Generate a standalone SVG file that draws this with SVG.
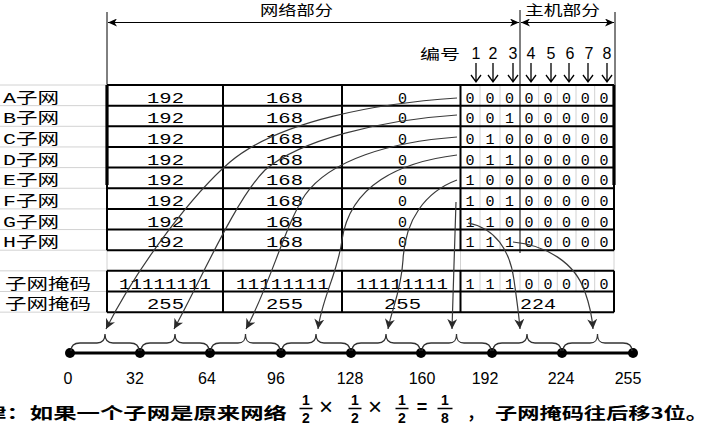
<svg xmlns="http://www.w3.org/2000/svg" width="710" height="429" viewBox="0 0 710 429">
<style>
.bg{fill:#fff}
.g{stroke:#d2d2d2;stroke-width:1;fill:none}
.k{stroke:#000;stroke-width:2;fill:none}
.kt{stroke:#000;stroke-width:3.2;fill:none}
.thin{stroke:#000;stroke-width:1;fill:none}
.m{font-family:"Liberation Mono","Noto Sans CJK SC",monospace;font-size:15px;fill:#000}
.mc{font-family:"Liberation Mono","Noto Sans CJK SC",monospace;font-size:15px;fill:#000;text-anchor:middle}
.cjk{font-family:"Noto Sans CJK SC","Liberation Sans",sans-serif;font-size:14px;fill:#000}
.num{font-family:"Liberation Sans",Arial,sans-serif;font-size:16px;fill:#000;text-anchor:middle}
.ax{font-family:"Liberation Sans",Arial,sans-serif;font-size:16px;fill:#000}
.b{font-family:"Noto Sans CJK SC","Liberation Sans",sans-serif;font-size:16px;font-weight:bold;fill:#000}
.fr{font-family:"Liberation Sans",Arial,sans-serif;font-size:14px;font-weight:bold;fill:#000;text-anchor:middle}
.cv{stroke:#3a3a3a;stroke-width:1.2;fill:none;marker-end:url(#ah)}
.br{stroke:#333;stroke-width:1.3;fill:none}
</style>
<defs>
<marker id="ah" markerUnits="userSpaceOnUse" markerWidth="11" markerHeight="10" refX="10" refY="5" orient="auto" viewBox="0 0 11 10">
<path d="M0,0 L10,5 L0,10 L3,5 z" fill="#2a2a2a"/>
</marker>
<marker id="hd" markerUnits="userSpaceOnUse" markerWidth="10" markerHeight="8" refX="9" refY="4" orient="auto-start-reverse" viewBox="0 0 10 8">
<path d="M0,0 L9,4 L0,8 L2.5,4 z" fill="#000"/>
</marker>
</defs>
<rect class="bg" x="0" y="0" width="710" height="429"/>

<g id="header">
<line class="thin" x1="107" y1="12" x2="107" y2="85"/>
<line class="thin" x1="520" y1="10" x2="520" y2="253"/>
<line class="thin" x1="615" y1="12" x2="615" y2="85"/>
<line x1="108" y1="22.5" x2="519" y2="22.5" stroke="#000" stroke-width="1" marker-start="url(#hd)" marker-end="url(#hd)"/>
<line x1="521" y1="22.5" x2="614" y2="22.5" stroke="#000" stroke-width="1" marker-start="url(#hd)" marker-end="url(#hd)"/>
<text class="cjk" x="260" y="15" textLength="73" lengthAdjust="spacingAndGlyphs">网络部分</text>
<text class="cjk" x="525" y="15" textLength="75" lengthAdjust="spacingAndGlyphs">主机部分</text>
<text class="cjk" x="420" y="59" font-size="16" textLength="40" lengthAdjust="spacingAndGlyphs">编号</text>
<text class="num" x="476" y="59">1</text>
<text class="num" x="493" y="59">2</text>
<text class="num" x="513" y="59">3</text>
<text class="num" x="531" y="59">4</text>
<text class="num" x="551" y="59">5</text>
<text class="num" x="570" y="59">6</text>
<text class="num" x="589" y="59">7</text>
<text class="num" x="607" y="59">8</text>
<g stroke="#000" stroke-width="1.3" fill="none">
<path d="M476,63V82M471,75L476,82L481,75"/>
<path d="M493,63V82M488,75L493,82L498,75"/>
<path d="M513,63V82M508,75L513,82L518,75"/>
<path d="M531,63V82M526,75L531,82L536,75"/>
<path d="M551,63V82M546,75L551,82L556,75"/>
<path d="M569,63V82M564,75L569,82L574,75"/>
<path d="M588,63V82M583,75L588,82L593,75"/>
<path d="M607,63V82M602,75L607,82L612,75"/>
</g>
</g>

<g id="grid">
<path class="g" d="M0,85H107M0,105.65H107M0,126.3H107M0,146.95H107M0,167.6H107M0,188.25H107M0,208.9H107M0,229.55H107M0,250.2H107M0,270.85H107M0,291.5H107M0,312.15H107"/>
<path class="g" d="M107,250.2V270.85M223,250.2V270.85M342,250.2V270.85M460.5,250.2V270.85M614,250.2V270.85"/>
<path class="g" d="M480,85V250.2M500,85V250.2M538.7,85V250.2M557.3,85V250.2M576,85V250.2M594.7,85V250.2"/>
<path class="g" d="M480,270.85V291.5M500,270.85V291.5M520,270.85V291.5M538.7,270.85V291.5M557.3,270.85V291.5M576,270.85V291.5M594.7,270.85V291.5"/>
</g>

<g id="table">
<path class="k" d="M107,85H614M107,105.65H614M107,126.3H614M107,146.95H614M107,167.6H614M107,188.25H614M107,208.9H614M107,229.55H614M107,250.2H614"/>
<path class="k" d="M107,85V250.2M223,85V250.2M342,85V250.2M460.5,85V250.2M614,85V250.2"/>
<path class="k" d="M107,270.85H614M107,291.5H614M107,312.15H614M107,270.85V312.15M223,270.85V312.15M342,270.85V312.15M460.5,270.85V312.15M614,270.85V312.15"/>
<path class="kt" d="M107,85V185M614,85V185"/>
</g>

<g id="labels">
<text class="m" x="3" y="102.5" textLength="56" lengthAdjust="spacingAndGlyphs">A子网</text>
<text class="m" x="3" y="123" textLength="56" lengthAdjust="spacingAndGlyphs">B子网</text>
<text class="m" x="3" y="144" textLength="56" lengthAdjust="spacingAndGlyphs">C子网</text>
<text class="m" x="3" y="164.5" textLength="56" lengthAdjust="spacingAndGlyphs">D子网</text>
<text class="m" x="3" y="185" textLength="56" lengthAdjust="spacingAndGlyphs">E子网</text>
<text class="m" x="3" y="206" textLength="56" lengthAdjust="spacingAndGlyphs">F子网</text>
<text class="m" x="3" y="226.5" textLength="56" lengthAdjust="spacingAndGlyphs">G子网</text>
<text class="m" x="3" y="247" textLength="56" lengthAdjust="spacingAndGlyphs">H子网</text>
<text class="m" x="5" y="288.5" textLength="86" lengthAdjust="spacingAndGlyphs">子网掩码</text>
<text class="m" x="5" y="309" textLength="86" lengthAdjust="spacingAndGlyphs">子网掩码</text>
</g>

<g id="cells">
<g>
<text class="m" x="147" y="102.5" textLength="37" lengthAdjust="spacingAndGlyphs">192</text>
<text class="m" x="147" y="123" textLength="37" lengthAdjust="spacingAndGlyphs">192</text>
<text class="m" x="147" y="144" textLength="37" lengthAdjust="spacingAndGlyphs">192</text>
<text class="m" x="147" y="164.5" textLength="37" lengthAdjust="spacingAndGlyphs">192</text>
<text class="m" x="147" y="185" textLength="37" lengthAdjust="spacingAndGlyphs">192</text>
<text class="m" x="147" y="206" textLength="37" lengthAdjust="spacingAndGlyphs">192</text>
<text class="m" x="147" y="226.5" textLength="37" lengthAdjust="spacingAndGlyphs">192</text>
<text class="m" x="147" y="247" textLength="37" lengthAdjust="spacingAndGlyphs">192</text>
<text class="m" x="266" y="102.5" textLength="37" lengthAdjust="spacingAndGlyphs">168</text>
<text class="m" x="266" y="123" textLength="37" lengthAdjust="spacingAndGlyphs">168</text>
<text class="m" x="266" y="144" textLength="37" lengthAdjust="spacingAndGlyphs">168</text>
<text class="m" x="266" y="164.5" textLength="37" lengthAdjust="spacingAndGlyphs">168</text>
<text class="m" x="266" y="185" textLength="37" lengthAdjust="spacingAndGlyphs">168</text>
<text class="m" x="266" y="206" textLength="37" lengthAdjust="spacingAndGlyphs">168</text>
<text class="m" x="266" y="226.5" textLength="37" lengthAdjust="spacingAndGlyphs">168</text>
<text class="m" x="266" y="247" textLength="37" lengthAdjust="spacingAndGlyphs">168</text>
<text class="mc" x="402.5" y="102.5">0</text>
<text class="mc" x="402.5" y="123">0</text>
<text class="mc" x="402.5" y="144">0</text>
<text class="mc" x="402.5" y="164.5">0</text>
<text class="mc" x="402.5" y="185">0</text>
<text class="mc" x="402.5" y="206">0</text>
<text class="mc" x="402.5" y="226.5">0</text>
<text class="mc" x="402.5" y="247">0</text>
</g>
<g>
<text class="mc" y="102.5"><tspan x="470">0</tspan><tspan x="490">0</tspan><tspan x="509.5">0</tspan><tspan x="529">0</tspan><tspan x="548">0</tspan><tspan x="566.5">0</tspan><tspan x="585.3">0</tspan><tspan x="604">0</tspan></text>
<text class="mc" y="123"><tspan x="470">0</tspan><tspan x="490">0</tspan><tspan x="509.5">1</tspan><tspan x="529">0</tspan><tspan x="548">0</tspan><tspan x="566.5">0</tspan><tspan x="585.3">0</tspan><tspan x="604">0</tspan></text>
<text class="mc" y="144"><tspan x="470">0</tspan><tspan x="490">1</tspan><tspan x="509.5">0</tspan><tspan x="529">0</tspan><tspan x="548">0</tspan><tspan x="566.5">0</tspan><tspan x="585.3">0</tspan><tspan x="604">0</tspan></text>
<text class="mc" y="164.5"><tspan x="470">0</tspan><tspan x="490">1</tspan><tspan x="509.5">1</tspan><tspan x="529">0</tspan><tspan x="548">0</tspan><tspan x="566.5">0</tspan><tspan x="585.3">0</tspan><tspan x="604">0</tspan></text>
<text class="mc" y="185"><tspan x="470">1</tspan><tspan x="490">0</tspan><tspan x="509.5">0</tspan><tspan x="529">0</tspan><tspan x="548">0</tspan><tspan x="566.5">0</tspan><tspan x="585.3">0</tspan><tspan x="604">0</tspan></text>
<text class="mc" y="206"><tspan x="470">1</tspan><tspan x="490">0</tspan><tspan x="509.5">1</tspan><tspan x="529">0</tspan><tspan x="548">0</tspan><tspan x="566.5">0</tspan><tspan x="585.3">0</tspan><tspan x="604">0</tspan></text>
<text class="mc" y="226.5"><tspan x="470">1</tspan><tspan x="490">1</tspan><tspan x="509.5">0</tspan><tspan x="529">0</tspan><tspan x="548">0</tspan><tspan x="566.5">0</tspan><tspan x="585.3">0</tspan><tspan x="604">0</tspan></text>
<text class="mc" y="247"><tspan x="470">1</tspan><tspan x="490">1</tspan><tspan x="509.5">1</tspan><tspan x="529">0</tspan><tspan x="548">0</tspan><tspan x="566.5">0</tspan><tspan x="585.3">0</tspan><tspan x="604">0</tspan></text>
</g>
<g>
<text class="m" x="119" y="288.5" textLength="92" lengthAdjust="spacingAndGlyphs">11111111</text>
<text class="m" x="236" y="288.5" textLength="93" lengthAdjust="spacingAndGlyphs">11111111</text>
<text class="m" x="356" y="288.5" textLength="92" lengthAdjust="spacingAndGlyphs">11111111</text>
<text class="mc" y="288.5"><tspan x="470">1</tspan><tspan x="490">1</tspan><tspan x="509.5">1</tspan><tspan x="529">0</tspan><tspan x="548">0</tspan><tspan x="566.5">0</tspan><tspan x="585.3">0</tspan><tspan x="604">0</tspan></text>
<text class="m" x="147" y="309" textLength="37" lengthAdjust="spacingAndGlyphs">255</text>
<text class="m" x="266" y="309" textLength="37" lengthAdjust="spacingAndGlyphs">255</text>
<text class="m" x="384" y="309" textLength="37" lengthAdjust="spacingAndGlyphs">255</text>
<text class="m" x="520" y="309" textLength="36" lengthAdjust="spacingAndGlyphs">224</text>
</g>
</g>

<g id="connectors">
<path class="cv" d="M457,98 C380,103 280,120 230,162 C195,192 140,262 106,329"/>
<path class="cv" d="M457,115 C380,120 300,140 265,170 C235,200 200,282 174,329"/>
<path class="cv" d="M457,137 C390,142 330,160 305,195 C285,225 270,285 246,329"/>
<path class="cv" d="M457,155 C400,162 350,185 342,240 C338,272 322,298 318,329"/>
<path class="cv" d="M457,180 C425,192 405,220 403,260 C401,292 392,308 388,329"/>
<path class="cv" d="M456,202 C455,240 453,290 452,329"/>
<path class="cv" d="M468,223 C495,228 510,250 514,280 C517,302 519,315 520,329"/>
<path class="cv" d="M513,242 C545,245 575,262 585,292 C590,306 592,316 593,329"/>
</g>

<g id="numberline">
<line x1="70" y1="353" x2="633" y2="353" stroke="#000" stroke-width="3"/>
<g fill="#000">
<circle cx="70" cy="353" r="5"/><circle cx="140" cy="353" r="5"/><circle cx="210" cy="353" r="5"/><circle cx="281" cy="353" r="5"/><circle cx="351" cy="353" r="5"/><circle cx="421" cy="353" r="5"/><circle cx="492" cy="353" r="5"/><circle cx="562" cy="353" r="5"/><circle cx="633" cy="353" r="5"/>
</g>
<g class="br">
<path d="M71,351 C71,345 74,343 80,343 L97,343 C102,343 105,341 105,334 C105,341 108,343 113,343 L130,343 C136,343 139,345 139,351"/>
<path d="M141,351 C141,345 144,343 150,343 L167,343 C172,343 175,341 175,334 C175,341 178,343 183,343 L200,343 C206,343 209,345 209,351"/>
<path d="M211,351 C211,345 214,343 220,343 L238,343 C243,343 245.5,341 245.5,334 C245.5,341 248,343 253,343 L271,343 C277,343 280,345 280,351"/>
<path d="M282,351 C282,345 285,343 291,343 L308,343 C313,343 316,341 316,334 C316,341 319,343 324,343 L341,343 C347,343 350,345 350,351"/>
<path d="M352,351 C352,345 355,343 361,343 L378,343 C383,343 386,341 386,334 C386,341 389,343 394,343 L411,343 C417,343 420,345 420,351"/>
<path d="M422,351 C422,345 425,343 431,343 L449,343 C454,343 456.5,341 456.5,334 C456.5,341 459,343 464,343 L482,343 C488,343 491,345 491,351"/>
<path d="M493,351 C493,345 496,343 502,343 L519,343 C524,343 527,341 527,334 C527,341 530,343 535,343 L552,343 C558,343 561,345 561,351"/>
<path d="M563,351 C563,345 566,343 572,343 L590,343 C595,343 597.5,341 597.5,334 C597.5,341 600,343 605,343 L623,343 C629,343 632,345 632,351"/>
</g>
<g class="ax" text-anchor="middle">
<text x="68" y="384">0</text>
<text x="135" y="384">32</text>
<text x="207" y="384">64</text>
<text x="276" y="384">96</text>
<text x="350" y="384">128</text>
<text x="422" y="384">160</text>
<text x="485" y="384">192</text>
<text x="561" y="384">224</text>
<text x="628" y="384">255</text>
</g>
</g>

<g id="note">
<text class="b" x="-17" y="419" textLength="304" lengthAdjust="spacingAndGlyphs">律：如果一个子网是原来网络</text>
<g class="fr">
<text x="306" y="405">1</text><text x="306" y="423">2</text>
<text x="355" y="405">1</text><text x="355" y="423">2</text>
<text x="402" y="405">1</text><text x="402" y="423">2</text>
<text x="445" y="405">1</text><text x="445" y="423">8</text>
</g>
<path d="M299.5,408.5H312.5M348.5,408.5H361.5M395.5,408.5H408.5M437.5,408.5H452.5" stroke="#000" stroke-width="1.6"/>
<text x="326" y="415" font-family="Liberation Sans,Arial,sans-serif" font-size="24" text-anchor="middle" fill="#000">×</text>
<text x="375" y="415" font-family="Liberation Sans,Arial,sans-serif" font-size="24" text-anchor="middle" fill="#000">×</text>
<text x="422" y="413" font-family="Liberation Sans,Arial,sans-serif" font-size="18" font-weight="bold" text-anchor="middle" fill="#000">=</text>
<text class="b" x="467" y="419">，</text>
<text class="b" x="495" y="419" textLength="213" lengthAdjust="spacingAndGlyphs">子网掩码往后移3位。</text>
</g>
</svg>
